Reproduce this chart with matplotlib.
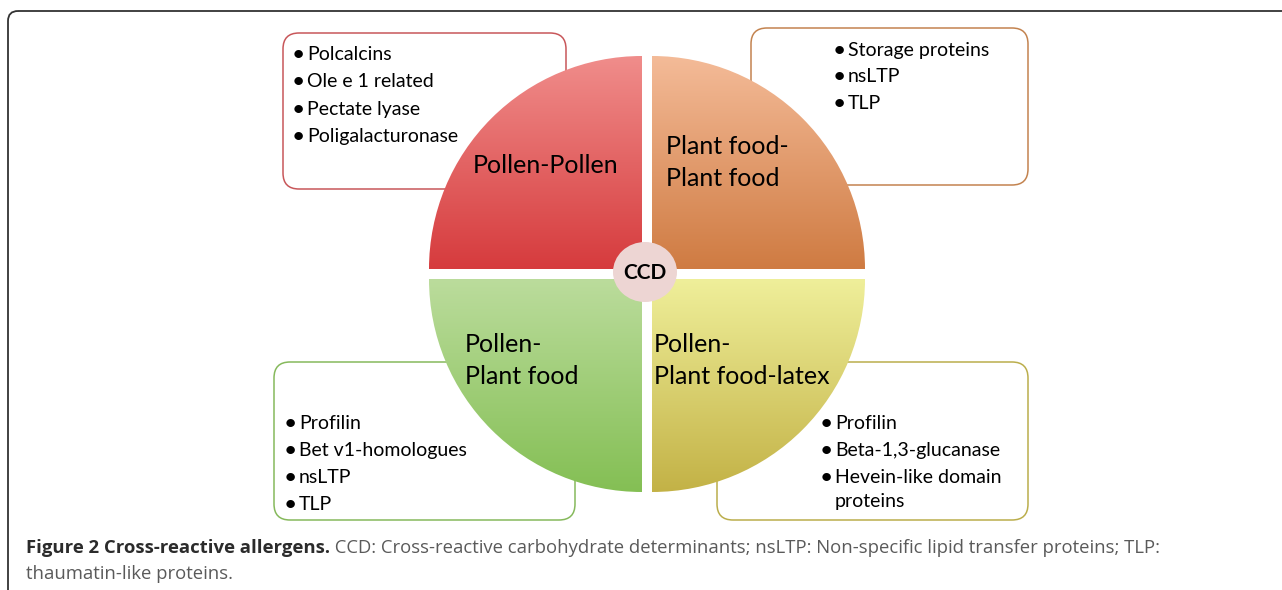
import numpy as np
import matplotlib
matplotlib.use("Agg")
import matplotlib.pyplot as plt
from matplotlib.patches import FancyBboxPatch, Wedge, Ellipse
from matplotlib.colors import LinearSegmentedColormap

W, H = 1282, 590

# quadrant labels and their allergen lists
quadrants = ["Pollen-Pollen", "Plant food-\nPlant food", "Pollen-\nPlant food", "Pollen-\nPlant food-latex"]
items_pp = ["Polcalcins", "Ole e 1 related", "Pectate lyase", "Poligalacturonase"]
items_ff = ["Storage proteins", "nsLTP", "TLP"]
items_pf = ["Profilin", "Bet v1-homologues", "nsLTP", "TLP"]
items_pfl = ["Profilin", "Beta-1,3-glucanase", "Hevein-like domain\nproteins"]
centre_label = "CCD"

top_colors = ["#F08D8B", "#F4BB98", "#BBDC9C", "#EFEF9A"]
bottom_colors = ["#D63B3D", "#CF7B42", "#84BF54", "#C3B246"]
edge_colors = ["#C8575A", "#C3834F", "#86B95C", "#BBAE4C"]

caption_bold = "Figure 2 Cross-reactive allergens."
caption_rest = (" CCD: Cross-reactive carbohydrate determinants; nsLTP: Non-specific lipid transfer proteins; TLP:")
caption_line2 = "thaumatin-like proteins."

ITEM_FONT = "Lato"

fig = plt.figure(figsize=(W / 100, H / 100), dpi=100)
ax = fig.add_axes([0, 0, 1, 1])
ax.set_xlim(0, W)
ax.set_ylim(H, 0)
ax.axis("off")

# outer frame, only top and left edges visible
ax.add_patch(FancyBboxPatch((8, 11), 1400, 700, boxstyle="round,pad=0,rounding_size=10",
                            fc="none", ec="#333333", lw=1.3))

# text boxes behind the circle: (x, y, w, h)
boxes = [(283, 33, 283, 156), (751, 28, 277, 157), (274, 362, 301, 158), (717, 362, 311, 158)]
for (bx, by, bw, bh), ec in zip(boxes, edge_colors):
    ax.add_patch(FancyBboxPatch((bx, by), bw, bh, boxstyle="round,pad=0,rounding_size=16",
                                fc="white", ec=ec, lw=1.1, zorder=1))

# quadrants with vertical gradient
R = 213
corners = [(642, 269), (652, 269), (642, 279), (652, 279)]
angles = [(180, 270), (270, 360), (90, 180), (0, 90)]
grad = np.linspace(0, 1, 256).reshape(-1, 1)
for (cx, cy), (a0, a1), c0, c1 in zip(corners, angles, top_colors, bottom_colors):
    cmap = LinearSegmentedColormap.from_list("q", [c0, c1])
    x0, x1 = (cx - R, cx) if a0 in (90, 180) else (cx, cx + R)
    y0, y1 = (cy - R, cy) if a0 >= 180 else (cy, cy + R)
    im = ax.imshow(grad, cmap=cmap, extent=(x0, x1, y1, y0), origin="upper",
                   aspect="auto", zorder=2, interpolation="bilinear")
    wedge = Wedge((cx, cy), R, a0, a1, transform=ax.transData, fc="none", ec="none")
    ax.add_patch(wedge)
    im.set_clip_path(wedge)
ax.set_xlim(0, W)
ax.set_ylim(H, 0)

# centre CCD
ax.add_patch(Ellipse((645, 272), 64, 60, fc="#EDD5D3", ec="none", zorder=3))
ax.text(645, 273, centre_label, ha="center", va="center", fontsize=15, fontweight="bold",
        family=ITEM_FONT, color="black", zorder=4)

# quadrant labels: (x, first baseline)
label_pos = [(473, 173), (666, 154), (465, 352), (654, 352)]
for (lx, ly), lab in zip(label_pos, quadrants):
    for k, line in enumerate(lab.split("\n")):
        ax.text(lx, ly + k * 32.5, line, ha="left", va="baseline", fontsize=18,
                family=ITEM_FONT, color="black", zorder=4)

# bullet lists: (text x, first baseline, spacing)
list_pos = [(307, 60, 27.3), (848, 56, 26.5), (299, 429, 27), (835, 429, 27)]
for (tx, y0, dy), items in zip(list_pos, [items_pp, items_ff, items_pf, items_pfl]):
    y = y0
    for it in items:
        ax.text(tx - 9, y, "\u2022", ha="center", va="baseline", fontsize=14,
                fontweight="bold", family=ITEM_FONT, zorder=4)
        for j, line in enumerate(it.split("\n")):
            ax.text(tx, y + j * 24, line, ha="left", va="baseline", fontsize=14,
                    family=ITEM_FONT, color="black", zorder=4)
        y += dy

# caption
cap = ax.text(26, 553, caption_bold, ha="left", va="baseline", fontsize=13.3,
              fontweight="bold", family="Open Sans", color="#2b2b2b")
fig.canvas.draw()
bb = cap.get_window_extent(fig.canvas.get_renderer())
ax.text(bb.x1, 553, caption_rest, ha="left", va="baseline", fontsize=13.3,
        family="Open Sans", color="#5a5a5a")
ax.text(26, 579, caption_line2, ha="left", va="baseline", fontsize=13.3,
        family="Open Sans", color="#5a5a5a")

fig.savefig("out.png", dpi=100)
